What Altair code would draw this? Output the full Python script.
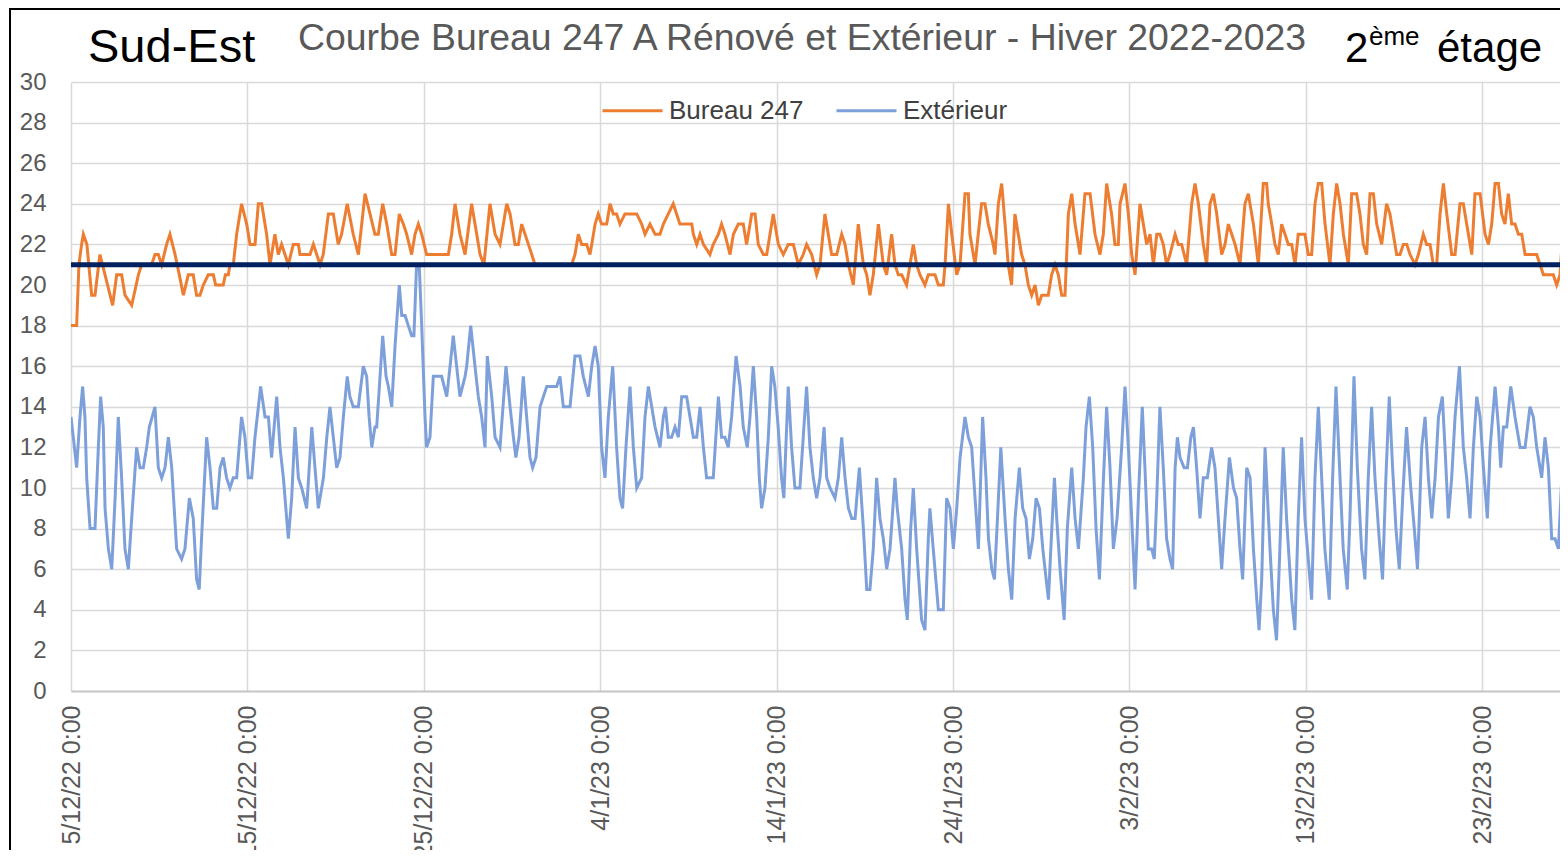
import altair as alt
import pandas as pd

# ---------------- data ----------------
# time = days after 5/12/2022 0:00
ORANGE_DAYS = [0, 0.32, 0.45, 0.6, 0.7, 0.9, 1.17, 1.36, 1.64, 1.93, 2.36, 2.59, 2.87, 3.06, 3.44, 3.82, 4.0, 4.57, 4.76, 4.95,
               5.14, 5.42, 5.61, 5.9, 6.14, 6.37, 6.65, 6.93, 7.12, 7.31, 7.5, 7.78, 8.07, 8.2, 8.63, 8.75, 8.92, 9.01, 9.2, 9.39,
               9.67, 9.96, 10.15, 10.43, 10.62, 10.81, 11.09, 11.28, 11.56, 11.75, 11.94, 12.32, 12.6, 12.89, 12.98, 13.55, 13.74, 13.93, 14.12, 14.3,
               14.59, 14.87, 15.15, 15.34, 15.66, 16.0, 16.29, 16.67, 16.95, 17.23, 17.42, 17.67, 17.9, 18.18, 18.37, 18.61, 18.84, 19.03, 19.31, 19.5,
               19.69, 19.88, 20.16, 21.39, 21.58, 21.77, 22.05, 22.34, 22.71, 23.0, 23.19, 23.41, 23.75, 24.04, 24.32, 24.7, 24.89, 25.17, 25.36, 25.55,
               25.74, 25.93, 26.12, 26.3, 28.38, 28.57, 28.76, 28.95, 29.23, 29.42, 29.52, 29.71, 29.89, 30.08, 30.37, 30.56, 30.74, 30.93, 31.12, 31.4,
               31.78, 32.07, 32.35, 32.54, 32.82, 33.11, 33.39, 33.58, 33.86, 34.14, 34.33, 34.52, 34.9, 35.19, 35.28, 35.47, 35.66, 35.85, 36.22, 36.41,
               36.7, 36.88, 37.07, 37.36, 37.55, 37.83, 38.11, 38.3, 38.59, 38.78, 38.96, 39.25, 39.44, 39.81, 40.1, 40.38, 40.66, 40.95, 41.23, 41.51,
               41.7, 41.99, 42.27, 42.46, 42.74, 42.93, 43.12, 43.41, 43.69, 43.88, 44.07, 44.35, 44.63, 44.92, 45.11, 45.29, 45.48, 45.77, 46.05, 46.24,
               46.52, 46.71, 46.9, 47.09, 47.37, 47.56, 47.75, 47.94, 48.13, 48.41, 48.6, 48.98, 49.17, 49.45, 49.55, 49.74, 49.93, 50.21, 50.4, 50.68,
               50.87, 50.96, 51.25, 51.43, 51.62, 51.81, 52.0, 52.28, 52.38, 52.57, 52.76, 52.95, 53.13, 53.32, 53.51, 53.7, 53.89, 54.08, 54.27, 54.46,
               54.65, 54.84, 55.03, 55.4, 55.59, 55.78, 55.97, 56.16, 56.35, 56.54, 56.73, 56.92, 57.2, 57.48, 57.77, 58.05, 58.33, 58.52, 58.71, 58.99,
               59.18, 59.37, 59.47, 59.75, 59.94, 60.13, 60.32, 60.6, 60.79, 60.98, 61.17, 61.36, 61.55, 61.73, 61.92, 62.11, 62.3, 62.59, 62.77, 62.96,
               63.25, 63.53, 63.72, 63.91, 64.19, 64.38, 64.57, 64.76, 64.95, 65.23, 65.42, 65.61, 65.8, 65.99, 66.27, 66.55, 66.74, 67.03, 67.31, 67.59,
               67.78, 67.87, 68.07, 68.25, 68.44, 68.63, 68.82, 69.01, 69.2, 69.39, 69.57, 69.76, 69.95, 70.14, 70.33, 70.52, 70.71, 70.9, 71.09, 71.37,
               71.56, 71.75, 71.94, 72.13, 72.41, 72.6, 72.88, 73.07, 73.26, 73.45, 73.64, 73.83, 74.02, 74.3, 74.58, 74.77, 74.96, 75.15, 75.34, 75.53,
               75.72, 75.91, 76.19, 76.38, 76.66, 76.85, 77.04, 77.23, 77.42, 77.61, 77.8, 77.99, 78.27, 78.46, 78.74, 78.93, 79.12, 79.41, 79.59, 79.88,
               80.16, 80.35, 80.54, 80.73, 80.92, 81.1, 81.29, 81.48, 81.67, 81.86, 82.05, 82.24, 82.43, 82.62, 83.09, 83.28, 83.47, 83.66, 83.84, 84.03,
               84.22, 84.41, 84.6, 84.79]
ORANGE_VALUES = [18, 18, 21, 22, 22.5, 22, 19.5, 19.5, 21.5, 20.5, 19, 20.5, 20.5, 19.5, 19, 20.5, 21, 21, 21.5, 21.5,
                 21, 22, 22.5, 21.5, 20.5, 19.5, 20.5, 20.5, 19.5, 19.5, 20, 20.5, 20.5, 20, 20, 20.5, 20.5, 21, 21, 22.5,
                 24, 23, 22, 22, 24, 24, 22.5, 21, 22.5, 21.5, 22, 21, 22, 22, 21.5, 21.5, 22, 21.5, 21, 21.5,
                 23.5, 23.5, 22, 22.5, 24, 22.5, 21.5, 24.5, 23.5, 22.5, 22.5, 24, 23, 21.5, 21.5, 23.5, 23, 22.5, 21.5, 22.5,
                 23, 22.5, 21.5, 21.5, 22.5, 24, 22.5, 21.5, 24, 22.5, 21.5, 21, 24, 22.5, 22, 24, 23.5, 22, 22, 23,
                 22.5, 22, 21.5, 21, 21, 21.5, 22.5, 22, 22, 21.5, 22, 23, 23.5, 23, 23, 24, 23.5, 23.5, 23, 23.5,
                 23.5, 23.5, 23, 22.5, 23, 22.5, 22.5, 23, 23.5, 24, 23.5, 23, 23, 23, 22.5, 22, 22.5, 22, 21.5, 22,
                 22.5, 23, 22.5, 21.5, 22.5, 23, 23, 22, 23.5, 23.5, 22, 21.5, 21.5, 23.5, 22, 21.5, 22, 22, 21, 21.5,
                 22, 21.5, 20.5, 21, 23.5, 22.5, 21.5, 21.5, 22.5, 22, 21, 20, 23, 21, 20.5, 19.5, 20.5, 23, 21, 20.5,
                 22.5, 21, 20.5, 20.5, 20, 21, 22, 21, 20.5, 20, 20.5, 20.5, 20, 20, 21, 24, 22.5, 20.5, 21, 24.5,
                 24.5, 22.5, 21, 22.5, 24, 24, 23, 22, 21.5, 24, 25, 23, 21, 20, 23.5, 22.5, 21.5, 21, 20, 19.5,
                 20, 19, 19.5, 19.5, 20.5, 21, 20.5, 19.5, 19.5, 23.5, 24.5, 23, 21.5, 24.5, 24.5, 22.5, 21.5, 22.5, 25, 23.5,
                 22, 22, 24, 25, 23.5, 21.5, 20.5, 24, 23, 22, 22.5, 21, 22.5, 22.5, 22, 21, 21.5, 22.5, 22, 22,
                 21, 24, 25, 24, 22, 21, 24, 24.5, 23.5, 21.5, 22, 23, 22.5, 22, 21, 24, 24.5, 23, 21, 25,
                 25, 24, 23, 22, 21.5, 23, 22.5, 22, 22, 21, 22.5, 22.5, 22.5, 21.5, 21.5, 24, 25, 25, 23, 21,
                 23.5, 25, 24, 22.5, 21, 24.5, 24.5, 23.5, 22, 21.5, 24.5, 24.5, 23, 22, 24, 23.5, 22.5, 21.5, 21.5, 22,
                 22, 21.5, 21, 21.5, 22.5, 22, 22, 21, 21, 23.5, 25, 23.5, 21.5, 21.5, 24, 24, 23, 21.5, 24.5, 24.5,
                 22.5, 22, 23, 25, 25, 23.5, 23, 24.5, 23, 23, 22.5, 22.5, 21.5, 21.5, 21.5, 21, 20.5, 20.5, 20.5, 20.5,
                 20, 20.5, 23, 24]

BLUE_DAYS = [0, 0.13, 0.32, 0.51, 0.66, 0.79, 0.89, 1.08, 1.36, 1.55, 1.68, 1.83, 1.93, 2.12, 2.31, 2.5, 2.68, 2.87, 3.06, 3.25,
             3.44, 3.72, 3.91, 4.1, 4.29, 4.44, 4.76, 4.95, 5.14, 5.33, 5.52, 5.71, 5.99, 6.27, 6.46, 6.71, 6.93, 7.12, 7.27, 7.4,
             7.69, 7.88, 8.07, 8.26, 8.45, 8.63, 8.82, 9.01, 9.2, 9.39, 9.67, 9.86, 10.05, 10.24, 10.43, 10.75, 11.0, 11.19, 11.37, 11.66,
             11.85, 12.04, 12.32, 12.51, 12.7, 12.89, 13.08, 13.36, 13.65, 13.83, 14.02, 14.31, 14.5, 14.68, 14.87, 15.06, 15.25, 15.44, 15.66, 15.81,
             16.0, 16.29, 16.57, 16.76, 16.9, 17.05, 17.23, 17.33, 17.52, 17.67, 17.86, 17.99, 18.18, 18.37, 18.61, 18.75, 18.94, 19.12, 19.31, 19.44,
             19.59, 19.74, 19.88, 20.07, 20.16, 20.35, 20.54, 20.73, 21.01, 21.3, 21.49, 21.67, 21.86, 22.05, 22.34, 22.43, 22.66, 22.9, 23.09, 23.28,
             23.47, 23.6, 23.85, 24.04, 24.32, 24.66, 24.89, 25.08, 25.22, 25.4, 25.64, 25.83, 26.02, 26.17, 26.36, 26.59, 26.78, 26.97, 27.53, 27.72,
             27.91, 28.29, 28.57, 28.85, 29.04, 29.33, 29.52, 29.71, 29.89, 30.08, 30.27, 30.46, 30.71, 30.93, 31.12, 31.27, 31.46, 31.69, 31.88, 32.07,
             32.35, 32.54, 32.73, 32.92, 33.11, 33.39, 33.58, 33.7, 33.86, 34.05, 34.24, 34.43, 34.62, 34.9, 35.09, 35.28, 35.47, 35.66, 35.85, 36.03,
             36.22, 36.41, 36.7, 36.88, 37.07, 37.26, 37.45, 37.7, 37.93, 38.11, 38.34, 38.49, 38.68, 38.87, 39.02, 39.15, 39.34, 39.53, 39.72, 39.9,
             40.09, 40.28, 40.41, 40.66, 40.85, 41.04, 41.32, 41.51, 41.7, 41.89, 42.08, 42.27, 42.46, 42.69, 42.84, 43.03, 43.31, 43.5, 43.69, 43.88,
             44.07, 44.26, 44.45, 44.69, 44.92, 45.11, 45.29, 45.48, 45.67, 45.86, 46.05, 46.24, 46.43, 46.71, 46.84, 47.09, 47.28, 47.41, 47.6, 47.75,
             47.94, 48.22, 48.41, 48.6, 48.69, 48.88, 49.17, 49.45, 49.64, 49.83, 50.02, 50.21, 50.4, 50.68, 50.87, 51.06, 51.25, 51.44, 51.68, 51.87,
             52.01, 52.2, 52.35, 52.52, 52.71, 52.95, 53.14, 53.33, 53.52, 53.76, 53.95, 54.14, 54.33, 54.52, 54.71, 54.9, 55.09, 55.28, 55.41, 55.6,
             55.75, 55.88, 56.07, 56.3, 56.48, 56.73, 56.92, 57.11, 57.39, 57.54, 57.73, 57.92, 58.11, 58.3, 58.53, 58.71, 58.9, 59.09, 59.3, 59.56,
             59.75, 59.94, 60.13, 60.32, 60.51, 60.73, 60.88, 61.07, 61.26, 61.41, 61.55, 61.73, 61.92, 62.11, 62.3, 62.45, 62.59, 62.72, 62.87, 63.1,
             63.29, 63.48, 63.63, 63.81, 64.0, 64.19, 64.42, 64.66, 64.85, 65.04, 65.23, 65.42, 65.67, 65.9, 66.08, 66.27, 66.42, 66.65, 66.84, 67.03,
             67.22, 67.35, 67.5, 67.69, 67.97, 68.16, 68.34, 68.53, 68.72, 68.91, 69.2, 69.38, 69.57, 69.76, 69.95, 70.14, 70.33, 70.52, 70.71, 70.9,
             71.08, 71.33, 71.52, 71.71, 71.94, 72.12, 72.35, 72.5, 72.73, 72.92, 73.16, 73.35, 73.54, 73.73, 73.92, 74.16, 74.35, 74.54, 74.73, 74.92,
             75.11, 75.3, 75.49, 75.71, 75.95, 76.15, 76.33, 76.57, 76.76, 76.95, 77.14, 77.33, 77.52, 77.74, 77.89, 78.08, 78.27, 78.46, 78.71, 78.93,
             79.12, 79.31, 79.5, 79.69, 79.88, 80.07, 80.29, 80.45, 80.73, 80.92, 81.05, 81.2, 81.39, 81.62, 81.86, 82.15, 82.43, 82.71, 82.9, 83.09,
             83.37, 83.56, 83.75, 83.94, 84.13, 84.32, 84.51, 84.7, 84.87]
BLUE_VALUES = [13.5, 12.5, 11, 13.5, 15, 13.5, 10.5, 8, 8, 12, 14.5, 13, 9, 7, 6, 9.5, 13.5, 10.5, 7, 6,
               8.5, 12, 11, 11, 12, 13, 14, 11, 10.5, 11, 12.5, 11, 7, 6.5, 7, 9.5, 8.5, 5.5, 5, 7.5,
               12.5, 11, 9, 9, 11, 11.5, 10.5, 10, 10.5, 10.5, 13.5, 12.5, 10.5, 10.5, 12.5, 15, 13.5, 13.5, 11.5, 14.5,
               12, 10.5, 7.5, 9.5, 13, 10.5, 10, 9, 13, 11, 9, 10.5, 12.5, 14, 12.5, 11, 11.5, 13.5, 15.5, 14.5,
               14, 14, 16, 15.5, 13.5, 12, 13, 13, 15.5, 17.5, 15.5, 15, 14, 17, 20, 18.5, 18.5, 18, 17.5, 17.5,
               21, 21, 18, 13.5, 12, 12.5, 15.5, 15.5, 15.5, 14.5, 16, 17.5, 16, 14.5, 15.5, 16, 18, 16, 14.5, 13.5,
               12, 16.5, 14.5, 12.5, 12, 16, 14, 12.5, 11.5, 12.5, 15.5, 13.5, 11.5, 11, 11.5, 14, 14.5, 15, 15, 15.5,
               14, 14, 16.5, 16.5, 15.5, 14.5, 16, 17, 16, 12, 10.5, 13.5, 16, 12, 9.5, 9, 12, 15, 12, 10,
               10.5, 13.5, 15, 14, 13, 12, 13.5, 14, 12.5, 12.5, 13, 12.5, 14.5, 14.5, 13.5, 12.5, 12.5, 14, 12, 10.5,
               10.5, 10.5, 14.5, 12.5, 12.5, 12, 13.5, 16.5, 15, 13, 12, 13.5, 16, 13.5, 10.5, 9, 10, 12.5, 16, 15,
               13, 10.5, 9.5, 15, 12, 10, 10, 12.5, 15, 12, 10.5, 9.5, 10.5, 13, 10.5, 10, 9.5, 10.5, 12.5, 10.5,
               9, 8.5, 8.5, 11, 8, 5, 5, 7, 10.5, 8.5, 7.5, 6, 7, 10.5, 9, 7, 4.5, 3.5, 8, 10,
               7, 3.5, 3, 7.5, 9, 7, 4, 4, 9.5, 9, 7, 9, 11.5, 13.5, 12.5, 12, 9.5, 7, 13.5, 10.5,
               7.5, 6, 5.5, 8.5, 12, 8.5, 6, 4.5, 8.5, 11, 9, 8.5, 6.5, 7.5, 9.5, 9, 7, 5.5, 4.5, 8,
               10.5, 8.5, 6, 3.5, 8, 11, 8.5, 7, 10.5, 13, 14.5, 12, 8, 5.5, 10.5, 14, 11, 7, 8.5, 12,
               15, 12, 8.5, 5, 9.5, 14, 11, 7, 7, 6.5, 9.5, 14, 11, 7.5, 6.5, 6, 11, 12.5, 11.5, 11,
               11, 12.5, 13, 11, 8.5, 10.5, 10.5, 12, 11, 8.5, 6, 8.5, 11.5, 10, 9.5, 7, 5.5, 11, 10.5, 7,
               4.5, 3, 5.5, 12, 7, 4, 2.5, 7, 12, 8.5, 4.5, 3, 8.5, 12.5, 8.5, 6.5, 4.5, 10.5, 14, 10.5,
               7, 4.5, 10.5, 15, 10.5, 7, 5, 8.5, 15.5, 11, 7, 5.5, 10.5, 14, 10.5, 7.5, 5.5, 10.5, 14.5, 11,
               8, 6, 9.5, 13, 10, 8, 6, 12, 13.5, 10.5, 8.5, 10.5, 13.5, 14.5, 12, 8.5, 10.5, 13.5, 16, 12,
               10.5, 8.5, 12, 14.5, 13.5, 11, 8.5, 12, 15, 13, 11, 13, 13, 15, 13.5, 12, 12, 14, 13.5, 12,
               10.5, 12.5, 11, 7.5, 7.5, 7, 10.5, 11.5, 12.5]

SERIES = ["Bureau 247", "Extérieur"]
SEUIL = 21
Y_TICKS = list(range(0, 31, 2))
X_TICK_DATES = [(2022, 12, 5), (2022, 12, 15), (2022, 12, 25), (2023, 1, 4), (2023, 1, 14),
                (2023, 1, 24), (2023, 2, 3), (2023, 2, 13), (2023, 2, 23)]
X_END = (2023, 2, 27, 9, 50)

TITLE = "Courbe Bureau 247 A Rénové et Extérieur - Hiver 2022-2023"
LEFT_TXT = "Sud-Est"

ORANGE = "#ED7D31"
BLUE = "#7EA0DA"
NAVY = "#002060"
FONT = "Liberation Sans"

start = pd.Timestamp("2022-12-05T00:00:00")


def iso(days):
    return [(start + pd.Timedelta(days=d)).strftime("%Y-%m-%dT%H:%M:%SZ") for d in days]


df = pd.concat([
    pd.DataFrame({"t": iso(ORANGE_DAYS), "v": ORANGE_VALUES, "serie": SERIES[0]}),
    pd.DataFrame({"t": iso(BLUE_DAYS), "v": BLUE_VALUES, "serie": SERIES[1]}),
], ignore_index=True)

tick_vals = [alt.DateTime(year=y, month=m, date=d, utc=True) for (y, m, d) in X_TICK_DATES]
x_dom = [alt.DateTime(year=2022, month=12, date=5, utc=True),
         alt.DateTime(year=X_END[0], month=X_END[1], date=X_END[2], hours=X_END[3], minutes=X_END[4], utc=True)]

W, H = 1489, 609

lines = alt.Chart(df).mark_line(strokeWidth=3, clip=True).encode(
    x=alt.X("t:T", scale=alt.Scale(type="utc", domain=x_dom),
            axis=alt.Axis(values=tick_vals, format="%-d/%-m/%y %-H:%M", labelAngle=270,
                          labelFontSize=25, labelColor="#595959", labelPadding=14,
                          ticks=False, domainColor="#C8C8C8", domainWidth=2,
                          gridColor="#D9D9D9", gridWidth=1.5, labelOverlap=False,
                          labelFlush=False, labelBound=False, title=None)),
    y=alt.Y("v:Q", scale=alt.Scale(domain=[0, 30], nice=False),
            axis=alt.Axis(values=Y_TICKS, format="d", labelFontSize=24, labelColor="#595959",
                          labelPadding=25, ticks=False, domain=False, gridColor="#D9D9D9",
                          gridWidth=1.5, title=None)),
    color=alt.Color("serie:N", scale=alt.Scale(domain=SERIES, range=[ORANGE, BLUE]),
                    legend=alt.Legend(title=None, orient="none", legendX=530, legendY=-3,
                                      direction="horizontal", symbolType="stroke",
                                      symbolSize=3600, symbolStrokeWidth=3,
                                      labelFontSize=26, labelColor="#404040", labelFont=FONT,
                                      labelOffset=5, columnPadding=26, padding=0)),
)

navy = alt.Chart(pd.DataFrame({"v": [SEUIL]})).mark_rule(color=NAVY, strokeWidth=5).encode(
    y=alt.Y("v:Q", title=None))

one = pd.DataFrame({"a": [0]})


def txt(s, x, y, size, color):
    return alt.Chart(one).mark_text(text=s, align="left", baseline="alphabetic", fontSize=size,
                                    color=color, font=FONT).encode(x=alt.value(x), y=alt.value(y))


frame_left = alt.Chart(one).mark_rule(color="black", strokeWidth=2).encode(
    x=alt.value(-61), y=alt.value(-80), y2=alt.value(H + 300))
frame_top = alt.Chart(one).mark_rule(color="black", strokeWidth=2).encode(
    x=alt.value(-61), x2=alt.value(W + 100), y=alt.value(-73))

chart = alt.layer(
    lines, navy,
    txt(LEFT_TXT, 17, -20, 47, "black"),
    txt(TITLE, 227, -32, 37.4, "#595959"),
    txt("2", 1274, -20, 42, "black"),
    txt("ème", 1298, -37, 26, "black"),
    txt("étage", 1366, -20, 42, "black"),
    frame_left, frame_top,
).properties(
    width=W, height=H,
    autosize=alt.AutoSizeParams(type="none"),
    padding={"left": 63, "top": 74, "right": 0, "bottom": 159},
).configure(background="white", font=FONT).configure_view(strokeWidth=0)

chart.save("out.html", embed_options={"renderer": "svg", "actions": False})
